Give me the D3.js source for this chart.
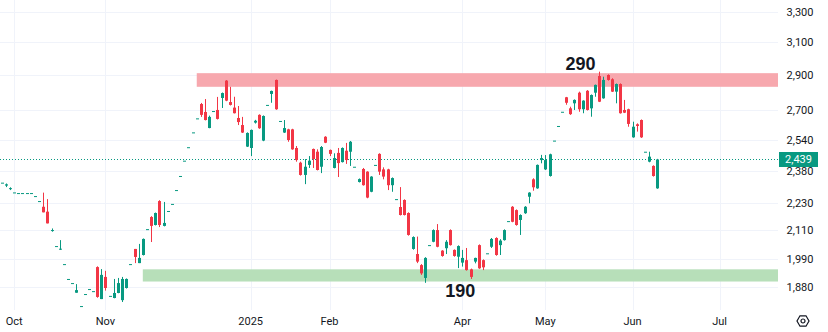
<!DOCTYPE html>
<html>
<head>
<meta charset="utf-8">
<script src="https://cdn.jsdelivr.net/npm/d3@7"></script>
<style>
body { margin: 0; background: #fff; }
svg { display: block; font-family: Roboto, "Liberation Sans", Arial, sans-serif; }
</style>
</head>
<body>
<svg id="chart" width="828" height="332"></svg>
<script>
// daily candles, oldest first
var opens = [2326,2312,2300,2280,2277,2277,2277,2277,2263,2240,
  2214,2192,2111,2043,2029,1969,1910,1894,1857,1807,
  1852,1871,1863,1957,1833,1918,1845,1837,1856,1829,
  1875,1969,2031,1973,2006,2115,2168,2133,2240,2129,
  2195,2227,2291,2358,2433,2501,2578,2653,2732,2688,
  2601,2693,2699,2766,2866,2743,2712,2655,2617,2504,
  2497,2630,2672,2535,2727,2789,2870,2639,2577,2594,
  2594,2497,2423,2363,2412,2492,2478,2403,2555,2487,
  2397,2472,2426,2483,2478,2403,2329,2392,2379,2283,
  2412,2467,2390,2390,2314,2249,2213,2245,2186,2031,
  2010,1965,1914,2047,2061,2111,2024,2034,2111,2027,
  1999,1975,1985,1948,1979,2047,1985,2013,2040,2077,
  2047,2068,2150,2214,2199,2155,2185,2260,2342,2299,
  2436,2390,2358,2535,2612,2689,2770,2708,2736,2796,
  2703,2807,2708,2796,2893,2764,2899,2874,2802,2846,
  2699,2703,2552,2621,2644,2478,2428,2407,2299];
var highs = [2326,2322,2304,2280,2277,2277,2277,2277,2263,2240,
  2279,2249,2118,2043,2068,1969,1910,1894,1890,1807,
  1852,1871,1863,1960,1949,1942,1845,1910,1914,1918,
  1912,1969,2031,2052,2075,2115,2172,2188,2244,2236,
  2195,2227,2291,2358,2433,2501,2578,2653,2738,2760,
  2668,2693,2772,2797,2869,2830,2773,2721,2661,2578,
  2593,2645,2675,2669,2727,2808,2872,2639,2644,2597,
  2597,2507,2428,2441,2456,2494,2490,2507,2558,2489,
  2470,2497,2500,2523,2533,2403,2346,2397,2381,2357,
  2412,2470,2400,2393,2351,2249,2305,2248,2189,2084,
  2083,1969,1997,2047,2114,2137,2026,2068,2114,2029,
  2046,2027,2035,1951,1995,2050,1988,2013,2077,2080,
  2072,2114,2150,2217,2202,2180,2217,2281,2347,2414,
  2462,2461,2468,2535,2612,2689,2772,2717,2758,2802,
  2753,2811,2786,2843,2919,2889,2903,2880,2849,2850,
  2755,2706,2635,2626,2647,2478,2478,2410,2442];
var lows = [2326,2305,2291,2280,2277,2277,2277,2277,2263,2240,
  2189,2140,2104,2043,2027,1969,1910,1894,1857,1807,
  1852,1871,1863,1838,1833,1865,1845,1836,1855,1822,
  1873,1969,1973,1973,2004,2115,2060,2131,2124,2127,
  2195,2227,2291,2358,2433,2501,2578,2653,2661,2642,
  2600,2693,2647,2710,2748,2724,2680,2617,2575,2502,
  2456,2625,2597,2532,2727,2739,2700,2639,2575,2529,
  2488,2428,2360,2319,2397,2397,2385,2372,2522,2456,
  2395,2353,2424,2417,2407,2403,2327,2312,2253,2281,
  2412,2363,2342,2291,2283,2249,2175,2175,2087,2028,
  1973,1926,1895,2047,2059,2038,1999,2010,2045,1999,
  1953,1959,1943,1910,1972,1950,1945,2013,2035,2003,
  2006,2066,2150,2145,2130,2090,2182,2230,2288,2297,
  2420,2387,2355,2535,2612,2689,2728,2672,2699,2689,
  2681,2696,2662,2773,2743,2762,2866,2800,2736,2679,
  2682,2608,2550,2582,2549,2478,2425,2355,2297];
var closes = [2326,2318,2300,2280,2277,2277,2277,2277,2263,2240,
  2189,2140,2111,2043,2032,1969,1910,1894,1867,1807,
  1852,1871,1863,1841,1926,1875,1845,1856,1894,1910,
  1910,1969,1998,1994,2073,2115,2129,2186,2133,2142,
  2195,2227,2291,2358,2433,2501,2578,2653,2672,2644,
  2661,2693,2650,2794,2751,2727,2681,2633,2577,2575,
  2591,2640,2600,2666,2727,2806,2703,2639,2601,2538,
  2490,2436,2363,2403,2433,2441,2387,2502,2524,2467,
  2446,2421,2497,2436,2529,2403,2343,2314,2256,2355,
  2412,2379,2355,2314,2348,2249,2177,2177,2090,2081,
  1979,1932,1994,2047,2111,2040,2002,2061,2047,2002,
  2043,1994,1945,1918,1994,1952,1956,2013,2073,2006,
  2066,2111,2150,2147,2133,2177,2214,2279,2304,2412,
  2446,2436,2465,2535,2612,2689,2739,2676,2755,2703,
  2751,2699,2783,2841,2745,2870,2870,2802,2846,2681,
  2684,2623,2608,2612,2552,2478,2453,2358,2439];

var yTicks = [1880, 1990, 2110, 2230, 2380, 2540, 2700, 2900, 3100, 3300];
var monthLabels = ["Oct", "Nov", "2025", "Feb", "Apr", "May", "Jun", "Jul"];
var monthIndex = [3, 25, 60, 79, 111, 131, 152, 173];
var lastPrice = 2439;

// zones drawn by hand on the chart: [from index, low price, high price]
var resistanceZone = [47, 2830, 2910];
var supportZone = [34, 1900, 1948];
var noteText = ["290", "190"];
var noteIndex = [139.5, 110.5];
var notePrice = [2930, 1841];

var upColor = "#089981";
var downColor = "#F23645";

var width = 828, height = 332;
var plotRight = 778, plotBottom = 310;

var svg = d3.select("#chart");

var xScale = d3.scaleLinear()
    .domain([0, closes.length - 1])
    .range([1.7, 657.4]);

var yScale = d3.scaleLog()
    .domain([1880, 3300])
    .range([286.7, 11.7]);

var fmt = d3.format(",");

//grid
var grid = svg.append("g");
grid.selectAll(".hgrid")
    .data(yTicks)
    .enter().append("line")
    .attr("x1", 0).attr("x2", plotRight)
    .attr("y1", d => Math.round(yScale(d)) + 0.5)
    .attr("y2", d => Math.round(yScale(d)) + 0.5)
    .attr("stroke", "#f0f3fa");
grid.selectAll(".vgrid")
    .data(monthIndex)
    .enter().append("line")
    .attr("x1", d => Math.round(xScale(d)) + 0.5)
    .attr("x2", d => Math.round(xScale(d)) + 0.5)
    .attr("y1", 0).attr("y2", plotBottom)
    .attr("stroke", "#f0f3fa");

//zones
svg.append("rect")
    .attr("x", xScale(resistanceZone[0]))
    .attr("y", yScale(resistanceZone[2]))
    .attr("width", plotRight - xScale(resistanceZone[0]))
    .attr("height", yScale(resistanceZone[1]) - yScale(resistanceZone[2]))
    .attr("fill", "#f7a8ae");
svg.append("rect")
    .attr("x", xScale(supportZone[0]))
    .attr("y", yScale(supportZone[2]))
    .attr("width", plotRight - xScale(supportZone[0]))
    .attr("height", yScale(supportZone[1]) - yScale(supportZone[2]))
    .attr("fill", "#b7dfb9");

//price line
svg.append("line")
    .attr("x1", 0).attr("x2", plotRight)
    .attr("y1", Math.round(yScale(lastPrice)) + 0.5)
    .attr("y2", Math.round(yScale(lastPrice)) + 0.5)
    .attr("stroke", upColor)
    .attr("stroke-dasharray", "1,2");

//candles
var candles = svg.append("g")
    .selectAll("g")
    .data(closes.map((c, i) => i))
    .enter().append("g");

candles.append("rect")
    .attr("x", i => Math.round(xScale(i)))
    .attr("width", 1)
    .attr("y", i => yScale(highs[i]))
    .attr("height", i => Math.max(0, yScale(lows[i]) - yScale(highs[i])))
    .attr("fill", i => closes[i] >= opens[i] ? upColor : downColor);

candles.append("rect")
    .attr("x", i => Math.round(xScale(i)) - 1)
    .attr("width", 3)
    .attr("y", i => yScale(Math.max(opens[i], closes[i])))
    .attr("height", i => Math.max(1, yScale(Math.min(opens[i], closes[i])) - yScale(Math.max(opens[i], closes[i]))))
    .attr("fill", i => closes[i] >= opens[i] ? upColor : downColor);

//notes
svg.selectAll(".note")
    .data(noteText)
    .enter().append("text")
    .attr("x", (d, i) => xScale(noteIndex[i]))
    .attr("y", (d, i) => yScale(notePrice[i]))
    .attr("text-anchor", "middle")
    .attr("font-family", "'Liberation Sans', Arial, sans-serif")
    .attr("font-weight", "bold")
    .attr("font-size", "18px")
    .attr("fill", "#131722")
    .text(d => d);

//y axis labels
svg.selectAll(".ylab")
    .data(yTicks)
    .enter().append("text")
    .attr("x", 800)
    .attr("y", d => yScale(d) + 4)
    .attr("text-anchor", "middle")
    .attr("font-size", "11px")
    .attr("fill", "#131722")
    .text(d => fmt(d));

// last price tag
var tagY = Math.round(yScale(lastPrice));
svg.append("rect")
    .attr("x", 779).attr("y", tagY - 7)
    .attr("width", 39).attr("height", 15)
    .attr("fill", upColor);
svg.append("text")
    .attr("x", 798.5).attr("y", tagY + 4)
    .attr("text-anchor", "middle")
    .attr("font-size", "11px")
    .attr("fill", "#fff")
    .text(fmt(lastPrice));

//x axis labels
svg.selectAll(".xlab")
    .data(monthLabels)
    .enter().append("text")
    .attr("x", (d, i) => xScale(monthIndex[i]))
    .attr("y", 325)
    .attr("text-anchor", "middle")
    .attr("font-size", "11px")
    .attr("fill", "#131722")
    .text(d => d);

// settings icon
var gear = svg.append("g").attr("transform", "translate(803,321)");
gear.append("path")
    .attr("d", d3.range(6).map((k, j) => {
        var a = Math.PI / 3 * k + Math.PI / 6;
        return (j ? "L" : "M") + (6 * Math.cos(a)).toFixed(2) + "," + (6 * Math.sin(a)).toFixed(2);
    }).join("") + "Z")
    .attr("transform", "rotate(30)")
    .attr("fill", "none")
    .attr("stroke", "#131722")
    .attr("stroke-width", 1.2);
gear.append("circle")
    .attr("r", 2)
    .attr("fill", "none")
    .attr("stroke", "#131722")
    .attr("stroke-width", 1.2);
</script>
</body>
</html>
